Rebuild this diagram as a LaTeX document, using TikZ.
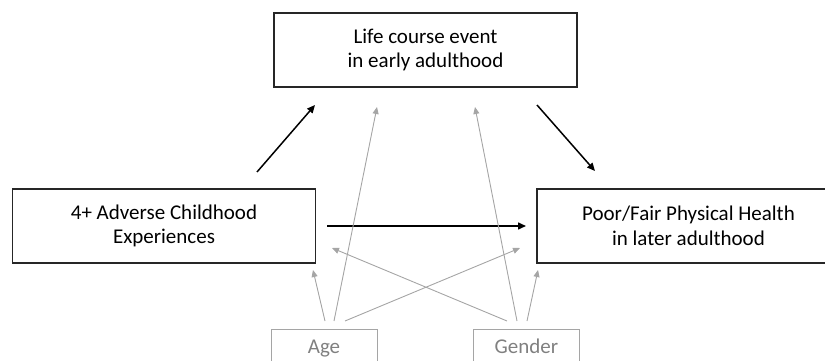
\documentclass[tikz,border=0pt]{standalone}
\usepackage{fontspec}
\setmainfont{Carlito}
\usetikzlibrary{arrows.meta}
\definecolor{lgrey}{RGB}{165,165,165}
\definecolor{tgrey}{RGB}{128,128,128}
\tikzset{
  mainbox/.style={draw=black!85, line width=1.5pt, minimum width=303pt, minimum height=74pt, align=center, font=\fontsize{21}{24.5}\selectfont, inner sep=0pt},
  ctrlbox/.style={draw=lgrey, line width=1pt, minimum width=106pt, minimum height=38pt, align=center, text=tgrey, font=\fontsize{21}{24.5}\selectfont, inner sep=0pt, text height=14pt, text depth=4pt},
  mainarrow/.style={line width=1.5pt, -{Triangle[length=8pt,width=7pt]}},
  ctrlarrow/.style={draw=lgrey, line width=0.9pt, -{Triangle[length=7pt,width=6pt]}, color=lgrey}
}
\begin{document}
\begin{tikzpicture}[x=1pt,y=-1pt]
\useasboundingbox (0,0) rectangle (825,361);
\clip (0,0) rectangle (825,361);
\node[mainbox] (life) at (425.5,50) {Life course event\\in early adulthood};
\node[mainbox] (ace) at (164,226) {4+ Adverse Childhood\\Experiences};
\node[mainbox] (health) at (688.5,226) {Poor/Fair Physical Health\\in later adulthood};
\node[ctrlbox] (age) at (324,348) {Age};
\node[ctrlbox] (gender) at (526.5,348) {Gender};
% endpoints
\coordinate (a1s) at (257,172); \coordinate (a1e) at (315,105);
\coordinate (a2s) at (537,105); \coordinate (a2e) at (595,171);
\coordinate (a3s) at (327,226); \coordinate (a3e) at (526,226);
\coordinate (g1s) at (334,321); \coordinate (g1e) at (377,107);
\coordinate (g2s) at (517,321); \coordinate (g2e) at (475,107);
\coordinate (g3s) at (325,321); \coordinate (g3e) at (313,270);
\coordinate (g4s) at (345,321); \coordinate (g4e) at (520,248);
\coordinate (g5s) at (507,321); \coordinate (g5e) at (332,248);
\coordinate (g6s) at (527,321); \coordinate (g6e) at (538,270);
\draw[mainarrow] (a1s) -- (a1e);
\draw[mainarrow] (a2s) -- (a2e);
\draw[mainarrow] (a3s) -- (a3e);
\draw[ctrlarrow] (g1s) -- (g1e);
\draw[ctrlarrow] (g2s) -- (g2e);
\draw[ctrlarrow] (g3s) -- (g3e);
\draw[ctrlarrow] (g4s) -- (g4e);
\draw[ctrlarrow] (g5s) -- (g5e);
\draw[ctrlarrow] (g6s) -- (g6e);
\end{tikzpicture}
\end{document}
